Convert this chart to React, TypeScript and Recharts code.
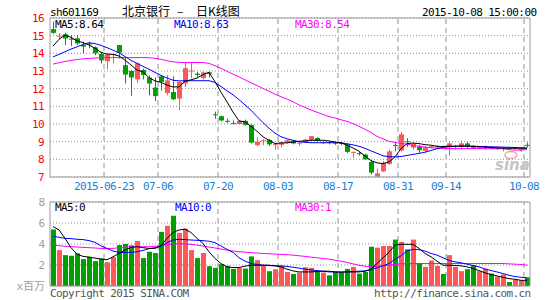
import { ComposedChart, Bar, Line, XAxis, YAxis, CartesianGrid, ReferenceLine } from "recharts"

// trading days 2015-06-09 .. 2015-10-08
const dates = [
  "06-09", "06-10", "06-11", "06-12", "06-15", "06-16", "06-17", "06-18", "06-19", "06-23",
  "06-24", "06-25", "06-26", "06-29", "06-30", "07-01", "07-02", "07-03", "07-06", "07-07",
  "07-08", "07-09", "07-10", "07-13", "07-14", "07-15", "07-16", "07-17", "07-20", "07-21",
  "07-22", "07-23", "07-24", "07-27", "07-28", "07-29", "07-30", "07-31", "08-03", "08-04",
  "08-05", "08-06", "08-07", "08-10", "08-11", "08-12", "08-13", "08-14", "08-17", "08-18",
  "08-19", "08-20", "08-21", "08-24", "08-25", "08-26", "08-27", "08-28", "08-31", "09-01",
  "09-02", "09-07", "09-08", "09-09", "09-10", "09-11", "09-14", "09-15", "09-16", "09-17",
  "09-18", "09-21", "09-22", "09-23", "09-24", "09-25", "09-28", "09-29", "09-30", "10-08",
]

const open = [
  15.37, 14.95, 15.08, 14.83, 14.85, 14.47, 14.55, 14.34, 13.96, 13.55,
  13.9, 14.47, 13.33, 13.0, 12.53, 13.05, 12.63, 12.06, 12.7, 11.75,
  11.81, 11.44, 12.3, 12.98, 12.85, 12.6, 12.92, 10.55, 10.44, 10.18,
  10.05, 10.0, 10.18, 9.93, 8.8, 9.02, 9.1, 8.82, 8.82, 8.95,
  9.05, 8.9, 8.99, 9.08, 9.21, 8.93, 8.98, 8.95, 8.93, 8.85,
  8.38, 8.35, 8.27, 7.85, 7.02, 7.32, 7.74, 8.82, 8.5, 9.02,
  8.66, 8.72, 8.47, 8.68, 8.68, 8.74, 8.68, 8.72, 8.7, 8.9,
  8.76, 8.66, 8.66, 8.68, 8.6, 8.58, 8.66, 8.6, 8.52, 8.82,
]
const high = [
  15.8, 15.13, 15.17, 15.03, 15.03, 14.66, 14.66, 14.4, 14.09, 13.97,
  14.0, 14.47, 13.75, 13.05, 13.47, 13.14, 12.75, 12.63, 12.77, 12.77,
  12.7, 12.4, 13.5, 13.45, 12.95, 12.98, 12.98, 10.7, 10.48, 10.3,
  10.2, 10.2, 10.25, 9.98, 9.25, 9.15, 9.15, 8.9, 8.98, 9.12,
  9.08, 8.98, 9.15, 9.32, 9.25, 9.05, 9.02, 9.0, 8.97, 8.88,
  8.45, 8.42, 8.32, 7.95, 7.47, 7.9, 8.55, 8.95, 9.55, 9.2,
  8.95, 8.82, 8.75, 8.78, 8.8, 8.78, 8.98, 8.82, 9.07, 8.98,
  8.8, 8.72, 8.78, 8.72, 8.7, 8.7, 8.7, 8.68, 8.66, 8.95,
]
const low = [
  15.1, 14.8, 14.47, 14.42, 14.47, 13.99, 14.3, 13.9, 13.43, 13.1,
  13.43, 13.7, 12.29, 11.58, 12.33, 12.52, 11.62, 11.3, 11.9, 11.62,
  11.35, 10.78, 12.1, 12.6, 12.63, 12.52, 12.62, 10.3, 10.15, 10.05,
  10.0, 9.98, 9.9, 8.9, 8.74, 8.8, 8.75, 8.55, 8.68, 8.9,
  8.85, 8.78, 8.95, 9.05, 9.0, 8.88, 8.85, 8.82, 8.8, 8.35,
  8.08, 8.22, 7.96, 7.15, 7.0, 7.28, 7.68, 8.45, 8.45, 8.7,
  8.55, 8.38, 8.42, 8.62, 8.62, 8.65, 8.22, 8.55, 8.62, 8.62,
  8.6, 8.6, 8.55, 8.58, 8.52, 8.45, 8.58, 8.55, 8.45, 8.68,
]
const close = [
  15.16, 15.0, 14.84, 14.78, 14.56, 14.38, 14.5, 14.0, 13.6, 13.94,
  13.96, 14.04, 12.8, 12.63, 13.43, 12.77, 12.29, 11.58, 12.38, 12.47,
  11.4, 12.38, 13.16, 13.03, 12.78, 12.92, 12.84, 10.5, 10.2, 10.15,
  10.02, 10.17, 9.95, 8.95, 9.0, 9.08, 8.85, 8.86, 8.95, 9.08,
  8.9, 8.94, 9.12, 9.31, 9.04, 8.97, 8.93, 8.9, 8.88, 8.42,
  8.42, 8.32, 8.0, 7.25, 7.2, 7.8, 8.45, 8.76, 9.42, 8.97,
  8.87, 8.52, 8.68, 8.74, 8.74, 8.7, 8.9, 8.76, 8.9, 8.76,
  8.66, 8.68, 8.73, 8.6, 8.66, 8.66, 8.62, 8.64, 8.62, 8.8,
]

const ma5 = [
  14.41, 14.79, 15.03, 14.9, 14.71, 14.6, 14.47, 14.28, 14.05, 13.96,
  13.94, 13.85, 13.62, 13.34, 13.05, 12.96, 12.62, 12.44, 12.36, 12.2,
  12.1, 12.1, 12.42, 12.5, 12.6, 12.8, 12.92, 12.4, 11.8, 11.25,
  10.68, 10.18, 10.12, 9.87, 9.59, 9.27, 9.08, 8.89, 8.93, 8.93,
  8.98, 9.02, 9.04, 9.08, 9.08, 9.08, 9.04, 8.98, 8.93, 8.8,
  8.64, 8.46, 8.18, 7.93, 7.8, 7.76, 7.85, 8.14, 8.61, 8.89,
  8.92, 8.89, 8.83, 8.8, 8.74, 8.72, 8.74, 8.74, 8.75, 8.75,
  8.73, 8.71, 8.69, 8.67, 8.65, 8.63, 8.63, 8.63, 8.63, 8.64,
]
const ma10 = [
  13.8, 13.94, 14.09, 14.24, 14.37, 14.5, 14.6, 14.55, 14.45, 14.32,
  14.18, 14.03, 13.82, 13.6, 13.43, 13.26, 13.1, 12.92, 12.75, 12.6,
  12.48, 12.44, 12.45, 12.45, 12.45, 12.45, 12.45, 12.35, 12.12, 11.88,
  11.65, 11.38, 11.08, 10.78, 10.42, 10.08, 9.76, 9.48, 9.28, 9.16,
  9.08, 9.0, 8.96, 8.94, 8.94, 8.94, 8.94, 8.94, 8.94, 8.88,
  8.82, 8.74, 8.62, 8.48, 8.34, 8.2, 8.15, 8.14, 8.16, 8.22,
  8.28, 8.34, 8.4, 8.5, 8.6, 8.68, 8.72, 8.74, 8.74, 8.74,
  8.74, 8.73, 8.72, 8.71, 8.7, 8.69, 8.68, 8.67, 8.65, 8.63,
]
const ma30 = [
  13.39, 13.47, 13.54, 13.6, 13.65, 13.69, 13.71, 13.73, 13.75, 13.76,
  13.76, 13.76, 13.76, 13.76, 13.76, 13.76, 13.75, 13.72, 13.66, 13.58,
  13.52, 13.49, 13.48, 13.48, 13.48, 13.48, 13.43, 13.3, 13.15, 12.99,
  12.82, 12.67, 12.5, 12.33, 12.18, 12.01, 11.86, 11.69, 11.54, 11.41,
  11.26, 11.08, 10.94, 10.79, 10.67, 10.54, 10.42, 10.34, 10.24, 10.15,
  10.03, 9.87, 9.7, 9.52, 9.3, 9.16, 9.02, 8.96, 8.9, 8.86,
  8.78, 8.74, 8.69, 8.66, 8.63, 8.62, 8.61, 8.61, 8.61, 8.61,
  8.61, 8.61, 8.6, 8.6, 8.6, 8.6, 8.55, 8.52, 8.52, 8.56,
]

// volume, millions of shares
const volume = [
  5.38, 3.42, 2.94, 2.88, 3.1, 2.56, 2.78, 2.37, 2.62, 2.27,
  2.75, 3.9, 4.0, 3.87, 4.29, 2.66, 3.26, 3.14, 5.15, 5.73,
  6.69, 5.06, 5.47, 3.42, 2.66, 3.14, 1.89, 1.73, 2.08, 1.92,
  1.63, 1.73, 1.66, 2.82, 2.46, 1.98, 1.41, 1.6, 1.92, 1.34,
  1.15, 1.28, 1.79, 1.73, 1.41, 1.28, 1.02, 1.34, 1.31, 1.63,
  1.82, 1.18, 1.34, 3.74, 3.65, 3.81, 3.81, 4.42, 4.2, 3.49,
  4.42, 2.11, 1.82, 2.43, 1.92, 1.15, 2.94, 1.82, 1.41, 1.6,
  1.98, 1.41, 1.63, 1.18, 0.9, 1.09, 0.38, 0.58, 0.54, 0.83,
]
const vma5 = [
  5.66, 5.34, 4.54, 3.65, 3.04, 2.82, 2.75, 2.66, 2.56, 2.5,
  2.78, 3.1, 3.42, 3.68, 3.74, 3.65, 3.58, 3.58, 3.84, 4.54,
  5.09, 5.34, 5.41, 5.09, 4.54, 4.06, 3.26, 2.62, 2.14, 1.82,
  1.76, 1.76, 1.89, 1.98, 1.98, 1.98, 1.98, 1.92, 1.82, 1.6,
  1.44, 1.34, 1.34, 1.34, 1.38, 1.41, 1.41, 1.34, 1.31, 1.34,
  1.34, 1.34, 1.41, 1.6, 2.14, 2.69, 3.2, 3.9, 3.97, 3.97,
  3.97, 3.58, 3.1, 2.78, 2.37, 1.98, 1.98, 1.95, 1.92, 1.82,
  1.66, 1.47, 1.25, 1.09, 0.96, 0.83, 0.7, 0.64, 0.54, 0.54,
]
const vma10 = [
  4.74, 4.64, 4.54, 4.51, 4.45, 4.42, 4.32, 4.16, 3.81, 3.58,
  3.33, 3.2, 3.2, 3.2, 3.26, 3.39, 3.55, 3.65, 3.78, 4.13,
  4.38, 4.45, 4.42, 4.38, 4.35, 4.32, 4.26, 4.13, 3.81, 3.49,
  3.2, 2.69, 2.37, 2.14, 2.05, 1.98, 1.95, 1.92, 1.92, 1.86,
  1.79, 1.7, 1.6, 1.54, 1.47, 1.41, 1.34, 1.34, 1.34, 1.34,
  1.38, 1.41, 1.44, 1.54, 1.73, 1.92, 2.14, 2.53, 2.88, 3.33,
  3.49, 3.46, 3.33, 3.1, 2.94, 2.69, 2.43, 2.3, 2.21, 2.08,
  1.95, 1.82, 1.63, 1.47, 1.34, 1.18, 1.02, 0.9, 0.83, 0.77,
]
const vma30 = [
  3.9, 3.84, 3.78, 3.74, 3.71, 3.68, 3.65, 3.62, 3.58, 3.58,
  3.58, 3.65, 3.71, 3.74, 3.74, 3.74, 3.74, 3.78, 3.84, 3.94,
  4.0, 4.03, 4.0, 3.97, 3.9, 3.81, 3.71, 3.62, 3.52, 3.42,
  3.33, 3.26, 3.23, 3.17, 3.14, 3.1, 3.07, 3.04, 3.01, 2.98,
  2.94, 2.88, 2.82, 2.75, 2.69, 2.62, 2.56, 2.46, 2.37, 2.24,
  2.11, 1.98, 1.89, 1.82, 1.89, 1.92, 1.98, 2.05, 2.11, 2.14,
  2.14, 2.14, 2.14, 2.14, 2.14, 2.14, 2.14, 2.14, 2.14, 2.14,
  2.14, 2.14, 2.14, 2.14, 2.14, 2.14, 2.11, 2.08, 2.05, 1.98,
]

const tickDates = ["06-23", "07-06", "07-20", "08-03", "08-17", "08-31", "09-14", "10-08"]
const tickLabels = ["2015-06-23", "07-06", "07-20", "08-03", "08-17", "08-31", "09-14", "10-08"]
const priceTicks = [7, 8, 9, 10, 11, 12, 13, 14, 15, 16]
const volumeTicks = [0, 2, 4, 6, 8]

const rows = dates.map((d, i) => ({
  date: d,
  range: [low[i], high[i]],
  open: open[i],
  high: high[i],
  low: low[i],
  close: close[i],
  ma5: ma5[i],
  ma10: ma10[i],
  ma30: ma30[i],
  vol: volume[i],
  vma5: vma5[i],
  vma10: vma10[i],
  vma30: vma30[i],
}))

const RED = "#ff5656"
const GREEN = "#00a000"
const GRID = "#909090"
const BORDER = "#999999"
const MONO = "'DejaVu Sans Mono', monospace"
const CJK = "'Noto Sans CJK SC', sans-serif"

function Candle(props: any) {
  const { x, y, width, height, payload } = props
  const up = payload.close >= payload.open
  const color = up ? RED : GREEN
  const top = Math.min(y, y + height)
  const h = Math.abs(height)
  const k = h / (payload.high - payload.low || 1)
  const bodyTop = top + (payload.high - Math.max(payload.open, payload.close)) * k
  const bodyH = Math.max(Math.abs(payload.open - payload.close) * k, 1)
  const bx = Math.round(x)
  return (
    <g>
      <rect x={bx + 2} y={top} width={1} height={h} fill={color} />
      <rect x={bx} y={bodyTop} width={5} height={bodyH} fill={color} />
    </g>
  )
}

function VolBar(props: any) {
  const { x, y, height, payload } = props
  const color = payload.close >= payload.open ? RED : GREEN
  return <rect x={Math.round(x)} y={y} width={5} height={height} fill={color} />
}

function PriceTick(props: any) {
  const { y, payload } = props
  return (
    <text x={44} y={y} dy={4} textAnchor="end" fill="#ff0000" fontFamily={MONO} fontSize={11} letterSpacing={-0.6}>
      {payload.value}
    </text>
  )
}

function VolTick(props: any) {
  const { y, payload } = props
  if (payload.value === 0) {
    return (
      <text x={45} y={y} dy={4} textAnchor="end" fill="#a0a0a0" fontSize={11}>
        <tspan fontFamily={MONO}>x</tspan>
        <tspan fontFamily={CJK} fontSize={11}>百万</tspan>
      </text>
    )
  }
  return (
    <text x={45} y={y} dy={4} textAnchor="end" fill="#a0a0a0" fontFamily={MONO} fontSize={11}>
      {payload.value}
    </text>
  )
}

function DateTick(props: any) {
  const { x, payload } = props
  const label = tickLabels[tickDates.indexOf(payload.value)]
  return (
    <text x={x - 3} y={189.5} textAnchor="middle" fill="#1a7fd0" fontFamily={MONO} fontSize={11} letterSpacing={-0.6}>
      {label}
    </text>
  )
}

const vLines = tickDates.map((d) => (
  <ReferenceLine key={d} x={d} position="start" stroke={GRID} strokeDasharray="5 4" />
))

export default function App() {
  return (
    <div style={{ position: "absolute", left: 0, top: 0, width: 545, height: 300, background: "#fff" }}>
      <div style={{ position: "absolute", left: 0, top: 0 }}>
        <ComposedChart width={545} height={200} data={rows} margin={{ top: 18, right: 15, bottom: 0, left: 0 }}>
          <CartesianGrid vertical={false} stroke={GRID} strokeDasharray="1 2" />
          <XAxis
            dataKey="date"
            ticks={tickDates}
            interval={0}
            height={23}
            tickLine={false}
            axisLine={{ stroke: BORDER }}
            tick={DateTick}
          />
          <YAxis
            domain={[7, 16]}
            ticks={priceTicks}
            interval={0}
            allowDataOverflow
            width={50}
            tickLine={false}
            axisLine={{ stroke: BORDER }}
            tick={PriceTick}
          />
          {vLines}
          <ReferenceLine y={16} stroke={BORDER} />
          <ReferenceLine x="10-08" position="end" stroke={BORDER} />
          <Bar dataKey="range" shape={Candle} isAnimationActive={false} />
          <Line dataKey="ma30" stroke="#ff00ff" strokeWidth={1} dot={false} isAnimationActive={false} />
          <Line dataKey="ma10" stroke="#0000ff" strokeWidth={1} dot={false} isAnimationActive={false} />
          <Line dataKey="ma5" stroke="#000000" strokeWidth={1} dot={false} isAnimationActive={false} />
        </ComposedChart>
      </div>
      <div style={{ position: "absolute", left: 0, top: 0 }}>
        <ComposedChart width={545} height={300} data={rows} margin={{ top: 202, right: 15, bottom: 14, left: 0 }}>
          <CartesianGrid vertical={false} stroke={GRID} strokeDasharray="1 2" />
          <XAxis dataKey="date" hide />
          <YAxis
            domain={[0, 8]}
            ticks={volumeTicks}
            interval={0}
            allowDataOverflow
            width={50}
            tickLine={false}
            axisLine={{ stroke: BORDER }}
            tick={VolTick}
          />
          {vLines}
          <ReferenceLine y={8} stroke={BORDER} />
          <ReferenceLine y={0} stroke={BORDER} />
          <ReferenceLine x="10-08" position="end" stroke={BORDER} />
          <Bar dataKey="vol" shape={VolBar} isAnimationActive={false} />
          <Line dataKey="vma30" stroke="#ff00ff" strokeWidth={1} dot={false} isAnimationActive={false} />
          <Line dataKey="vma10" stroke="#0000ff" strokeWidth={1} dot={false} isAnimationActive={false} />
          <Line dataKey="vma5" stroke="#000000" strokeWidth={1} dot={false} isAnimationActive={false} />
        </ComposedChart>
      </div>
      <svg width={545} height={300} style={{ position: "absolute", left: 0, top: 0, pointerEvents: "none" }}>
        <g fontFamily={MONO} fontSize={11} letterSpacing={-0.6}>
          <text x={50} y={15.5} fill="#000">sh601169</text>
          <text x={422} y={15.5} fill="#000">2015-10-08 15:00:00</text>
          <text x={55} y={28} fill="#000">MA5:8.64</text>
          <text x={174} y={28} fill="#0000ff">MA10:8.63</text>
          <text x={295} y={28} fill="#ff00ff">MA30:8.54</text>
          <text x={55} y={210.5} fill="#000">MA5:0</text>
          <text x={175} y={210.5} fill="#0000ff">MA10:0</text>
          <text x={295} y={210.5} fill="#ff00ff">MA30:1</text>
          <text x={50} y={296.5} fill="#555">Copyright 2015 SINA.COM</text>
          <text x={374} y={296.5} fill="#555">http://finance.sina.com.cn</text>
        </g>
        <g fontFamily={CJK} fontSize={12} fill="#000">
          <text x={122} y={16}>北京银行</text>
          <text x={177} y={16}>–</text>
          <text x={196} y={16}>日K线图</text>
        </g>
        <ellipse cx={511} cy={155} rx={6} ry={3.5} fill="none" stroke="#f2a0a0" strokeWidth={1.5} />
        <text x={495} y={170} fill="#c4c4c4" fontFamily="'DejaVu Sans', sans-serif" fontSize={15} fontWeight="bold" fontStyle="italic">
          sina
        </text>
      </svg>
    </div>
  )
}
